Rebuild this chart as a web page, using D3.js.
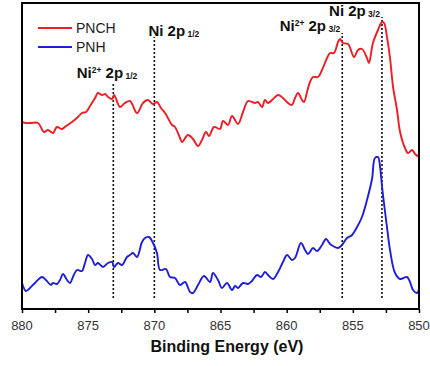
<!DOCTYPE html>
<html>
<head>
<meta charset="utf-8">
<script src="https://cdn.jsdelivr.net/npm/d3@7"></script>
<style>
  body { margin: 0; background: #fff; }
  .tickLabel { font-family: "Liberation Sans", Arial, sans-serif; font-size: 13px; fill: #333; }
  .axisTitle { font-family: "Liberation Sans", Arial, sans-serif; font-size: 16px; font-weight: bold; fill: #111; }
  .peakLabel { font-family: "Liberation Sans", Arial, sans-serif; font-size: 15px; font-weight: bold; fill: #111; }
  .legendText { font-family: "Liberation Sans", Arial, sans-serif; font-size: 14px; fill: #222; }
</style>
</head>
<body>
<div class="chart"></div>
<script>
// Data (binding energy in eV, intensity in arbitrary units)
var pnchEnergy = [880.00, 879.70, 879.32, 878.79, 878.34, 878.04, 877.66, 877.36, 876.98, 876.67,
  876.22, 875.77, 875.47, 875.16, 874.86, 874.48, 874.26, 873.95, 873.73, 873.50,
  873.19, 873.04, 872.59, 872.22, 871.84, 871.31, 870.86, 870.48, 870.10, 869.80,
  869.50, 869.19, 868.66, 868.44, 868.06, 867.91, 867.46, 867.08, 866.70, 866.40,
  866.10, 865.87, 865.49, 865.04, 864.81, 864.43, 864.13, 863.68, 863.30, 862.92,
  862.62, 862.39, 862.17, 861.86, 861.64, 861.41, 861.11, 860.65, 860.28, 859.90,
  859.60, 859.37, 859.14, 858.84, 858.69, 858.46, 858.24, 858.01, 857.63, 857.33,
  856.95, 856.72, 856.42, 856.12, 855.97, 855.74, 855.36, 854.91, 854.61, 854.31,
  853.93, 853.78, 853.48, 853.10, 852.79, 852.64, 852.42, 852.19, 851.96, 851.66,
  851.43, 851.06, 850.83, 850.53, 850.30, 850.00];
var pnchIntensity = [187, 186, 186, 186, 177, 179, 176, 182, 180, 183,
  187, 192, 196, 197, 203, 211, 216, 214, 215, 212,
  210, 214, 202, 206, 208, 196, 206, 209, 205, 207,
  201, 196, 184, 182, 171, 167, 174, 170, 163, 169,
  177, 173, 182, 180, 188, 184, 193, 185, 197, 208,
  207, 206, 207, 202, 209, 206, 209, 214, 211, 206,
  204, 211, 216, 209, 207, 217, 227, 232, 232, 239,
  251, 256, 256, 267, 270, 266, 265, 252, 259, 260,
  251, 246, 266, 279, 287, 286, 272, 251, 222, 199,
  177, 161, 156, 159, 155, 152];

var pnhEnergy = [880.00, 879.70, 879.40, 879.02, 878.49, 878.19, 877.81, 877.66, 877.36, 877.13,
  876.90, 876.60, 876.37, 876.15, 875.84, 875.47, 875.24, 875.01, 874.71, 874.48,
  874.26, 873.88, 873.50, 873.19, 873.04, 872.75, 872.44, 872.07, 871.84, 871.61,
  871.31, 870.93, 870.70, 870.40, 870.10, 869.80, 869.57, 869.12, 868.82, 868.44,
  868.06, 867.68, 867.30, 867.08, 866.70, 866.25, 865.79, 865.57, 865.19, 864.89,
  864.51, 864.13, 863.90, 863.68, 863.30, 862.92, 862.62, 862.24, 861.94, 861.64,
  861.41, 861.03, 860.65, 860.28, 859.97, 859.60, 859.37, 858.92, 858.61, 858.39,
  858.01, 857.71, 857.33, 857.03, 856.72, 856.50, 856.12, 855.82, 855.44, 855.06,
  854.68, 854.31, 853.93, 853.55, 853.33, 853.10, 852.94, 852.79, 852.42, 852.19,
  851.81, 851.43, 850.91, 850.68, 850.45, 850.15, 850.00];
var pnhIntensity = [26, 18, 21, 26, 32, 29, 24, 26, 25, 29,
  35, 29, 26, 32, 39, 38, 46, 54, 50, 44,
  46, 42, 46, 47, 42, 46, 44, 52, 54, 56,
  52, 67, 71, 72, 66, 56, 39, 40, 32, 31,
  24, 27, 17, 16, 24, 33, 27, 36, 29, 21,
  26, 19, 23, 21, 26, 25, 28, 34, 32, 37,
  34, 30, 37, 47, 54, 49, 51, 66, 59, 55,
  61, 58, 64, 70, 65, 63, 61, 64, 71, 74,
  82, 92, 109, 130, 151, 152, 142, 122, 82, 59,
  36, 30, 32, 27, 19, 16, 20];

// Peak markers: energy, top of the dotted line, label parts
var peakEnergy = [873.1, 870.0, 855.8, 852.8];
var peakTop = [226, 272, 276, 292];
var peakMain = ["Ni", "Ni", "Ni", "Ni"];
var peakCharge = ["2+", "", "2+", ""];
var peakSub = ["1/2", "1/2", "3/2", "3/2"];

var seriesNames = ["PNCH", "PNH"];
var seriesColors = ["#ee1c24", "#1e1ed8"];

var xTickValues = [880, 875, 870, 865, 860, 855, 850];
var xMinorTicks = [880, 877.5, 875, 872.5, 870, 867.5, 865, 862.5, 860, 857.5, 855, 852.5, 850];

// SVG size and plot frame
var svgWidth = 430;
var svgHeight = 366;
var frame = { left: 22, right: 419, top: 3, bottom: 309 };

var svg = d3.select(".chart")
  .append("svg")
  .attr("width", svgWidth)
  .attr("height", svgHeight);

// Scales
// ==============================
var xScale = d3.scaleLinear()
  .domain([880, 850])
  .range([frame.left, frame.right]);

var yScale = d3.scaleLinear()
  .domain([0, 306])
  .range([frame.bottom, frame.top]);

// Dotted peak lines
// ==============================
svg.selectAll(".peakLine")
  .data(peakEnergy)
  .enter()
  .append("line")
  .attr("class", "peakLine")
  .attr("x1", d => xScale(d))
  .attr("x2", d => xScale(d))
  .attr("y1", yScale(11))
  .attr("y2", (d, i) => yScale(peakTop[i]))
  .attr("stroke", "#111")
  .attr("stroke-width", 1.6)
  .attr("stroke-dasharray", "2,2");

// Spectra
// ==============================
var line = d3.line()
  .x(d => xScale(d[0]))
  .y(d => yScale(d[1]))
  .curve(d3.curveCatmullRom.alpha(0.5));

var pnch = pnchEnergy.map((e, i) => [e, pnchIntensity[i]]);
var pnh = pnhEnergy.map((e, i) => [e, pnhIntensity[i]]);

[pnch, pnh].forEach(function (series, i) {
  svg.append("path")
    .datum(series)
    .attr("d", line)
    .attr("fill", "none")
    .attr("stroke", seriesColors[i])
    .attr("stroke-width", 1.9)
    .attr("stroke-linejoin", "round");
});

// Frame and bottom axis
// ==============================
svg.append("rect")
  .attr("x", frame.left)
  .attr("y", frame.top)
  .attr("width", frame.right - frame.left)
  .attr("height", frame.bottom - frame.top)
  .attr("fill", "none")
  .attr("stroke", "#000")
  .attr("stroke-width", 2);

var xAxis = d3.axisBottom(xScale)
  .tickValues(xMinorTicks)
  .tickSize(4)
  .tickFormat("");

var axisG = svg.append("g")
  .attr("transform", `translate(0, ${frame.bottom})`)
  .call(xAxis);
axisG.select(".domain").remove();
axisG.selectAll(".tick line").attr("stroke", "#000").attr("stroke-width", 1.5);

svg.selectAll(".tickLabel")
  .data(xTickValues)
  .enter()
  .append("text")
  .attr("class", "tickLabel")
  .attr("x", d => xScale(d))
  .attr("y", 330)
  .attr("text-anchor", "middle")
  .text(d => d);

svg.append("text")
  .attr("class", "axisTitle")
  .attr("x", 227)
  .attr("y", 352)
  .attr("text-anchor", "middle")
  .text("Binding Energy (eV)");

// Peak labels
// ==============================
var labelLayout = [
  { dx: 24, y: 78 },
  { dx: 45, y: 36 },
  { dx: -2, y: 31 },
  { dx: -2, y: 16 }
];

peakEnergy.forEach(function (e, i) {
  var t = svg.append("text")
    .attr("class", "peakLabel")
    .attr("x", xScale(e) + labelLayout[i].dx)
    .attr("y", labelLayout[i].y)
    .attr("text-anchor", "end");
  t.append("tspan").text(peakMain[i]);
  if (peakCharge[i]) {
    t.append("tspan").attr("font-size", "8.5px").attr("dy", -5).text(peakCharge[i]);
    t.append("tspan").attr("dy", 5).text(" 2p");
  } else {
    t.append("tspan").text(" 2p");
  }
  t.append("tspan").attr("font-size", "8.5px").attr("dy", 1).text("  " + peakSub[i]);
});

// Legend
// ==============================
var legend = svg.selectAll(".legend")
  .data(seriesNames)
  .enter()
  .append("g")
  .attr("class", "legend")
  .attr("transform", (d, i) => `translate(38, ${28 + i * 19})`);

legend.append("line")
  .attr("x1", 0)
  .attr("x2", 34)
  .attr("stroke", (d, i) => seriesColors[i])
  .attr("stroke-width", 2);

legend.append("text")
  .attr("class", "legendText")
  .attr("x", 38)
  .attr("y", 5)
  .text(d => d);
</script>
</body>
</html>
